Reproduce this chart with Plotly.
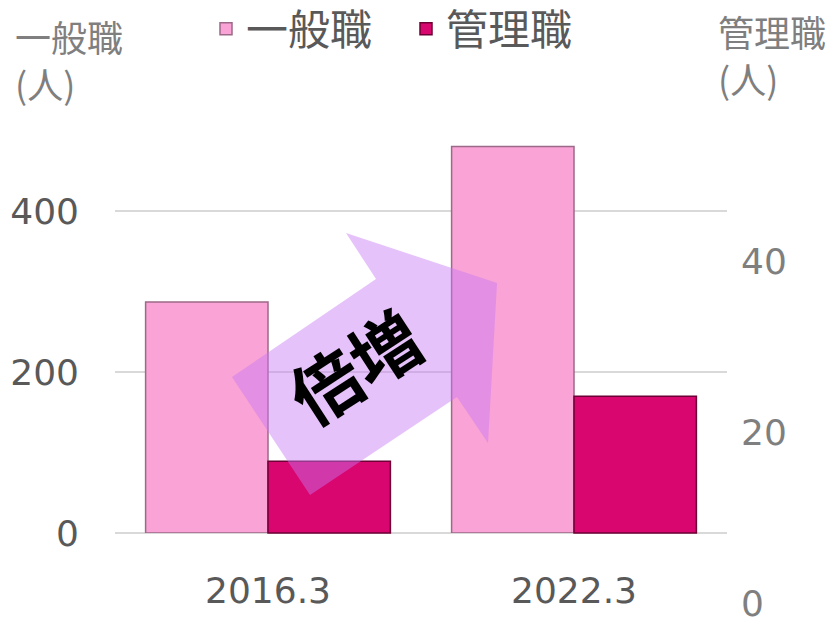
import plotly.graph_objects as go

# data
categories = ["2016.3", "2022.3"]
general_staff = [287, 480]      # 一般職 (left axis)
managers = [8.4, 16.0]          # 管理職 (right axis, bar heights)
left_ticks = [0, 200, 400]
right_ticks = [0, 20, 40]

# the page body adds an 8px margin, so the figure is drawn 8px smaller and all
# reference pixel positions are moved by that offset
OFF = 8
W, H = 833 - OFF, 619 - OFF


def X(x):
    return x - OFF


def Y(y):
    return y - OFF


L, R, T, B = X(115), W - X(727), Y(100), H - Y(610)
PW, PH = W - L - R, H - T - B


def px(x):
    return (X(x) - L) / PW


def py(y):
    return (H - B - Y(y)) / PH


jp = "Noto Sans CJK JP"
num = "DejaVu Sans"

# right axis: 0 sits at 603px, 8.55 px per person; bars start at the 533px baseline
r_scale = 8.55
r_zero = Y(603)
r_base = (r_zero - Y(533)) / r_scale
l_scale = 0.805

fig = go.Figure()
fig.add_trace(go.Bar(
    x=categories, y=general_staff, name="一般職",
    width=0.4, offset=-0.4,
    marker=dict(color="#F9A3D6", line=dict(color="#9c6a88", width=1.5)),
))
fig.add_trace(go.Bar(
    x=categories, y=managers, name="管理職", yaxis="y2",
    base=r_base, width=0.4, offset=0,
    marker=dict(color="#D9066F", line=dict(color="#6e0035", width=1.5)),
))

# "doubling" arrow
pts = [(310, 495), (232, 377), (376, 279), (346, 233), (497, 283), (488, 443), (457, 397)]
path = "M " + " L ".join(f"{X(x) - L},{H - B - Y(y)}" for x, y in pts) + " Z"
fig.add_shape(type="path", path=path, xref="paper", yref="paper",
              xsizemode="pixel", ysizemode="pixel", xanchor=0, yanchor=0,
              fillcolor="rgba(200,120,245,0.45)", line=dict(width=0), layer="above")

fig.add_annotation(text="<b>倍増</b>", x=px(354), y=py(365), xref="paper", yref="paper",
                   showarrow=False, textangle=-33, font=dict(family=jp, size=70, color="black"))

fig.add_annotation(text="一般職<br>(人)", x=px(13), y=py(8), xref="paper", yref="paper",
                   xanchor="left", yanchor="top", align="left", showarrow=False,
                   font=dict(family=jp, size=36, color="#7f7f7f"))
fig.add_annotation(text="管理職<br>(人)", x=px(716), y=py(3), xref="paper", yref="paper",
                   xanchor="left", yanchor="top", align="left", showarrow=False,
                   font=dict(family=jp, size=36, color="#7f7f7f"))

fig.update_layout(
    width=W, height=H,
    margin=dict(l=L, r=R, t=T, b=B),
    plot_bgcolor="rgba(0,0,0,0)", paper_bgcolor="white",
    showlegend=True,
    legend=dict(orientation="h", xref="container", yref="container",
                x=X(206) / W, xanchor="left", y=1 - Y(29) / H, yanchor="middle",
                font=dict(family=jp, size=42, color="#595959"),
                entrywidth=155, entrywidthmode="pixels", bgcolor="rgba(0,0,0,0)"),
    xaxis=dict(type="category", anchor="y", showgrid=False, showline=False, ticks="",
               automargin=False,
               tickfont=dict(family=num, size=36, color="#595959"), ticklabelstandoff=33),
    yaxis=dict(domain=[py(533), 1], range=[0, (Y(533) - T) / l_scale], tickvals=left_ticks,
               showgrid=True, gridcolor="#d9d9d9", gridwidth=1.5,
               zeroline=True, zerolinecolor="#d9d9d9", zerolinewidth=1.5,
               showline=False, ticks="", ticklabelstandoff=35, automargin=False,
               tickfont=dict(family=num, size=36, color="#595959")),
    yaxis2=dict(domain=[0, 1], anchor="x", side="right",
                range=[(r_zero - (H - B)) / r_scale, (r_zero - T) / r_scale], tickvals=right_ticks,
                showgrid=False, zeroline=False, showline=False, ticks="", ticklabelstandoff=13,
                automargin=False, ticklabeloverflow="allow",
                tickfont=dict(family=num, size=36, color="#7f7f7f")),
)

fig.write_html("out.html")
